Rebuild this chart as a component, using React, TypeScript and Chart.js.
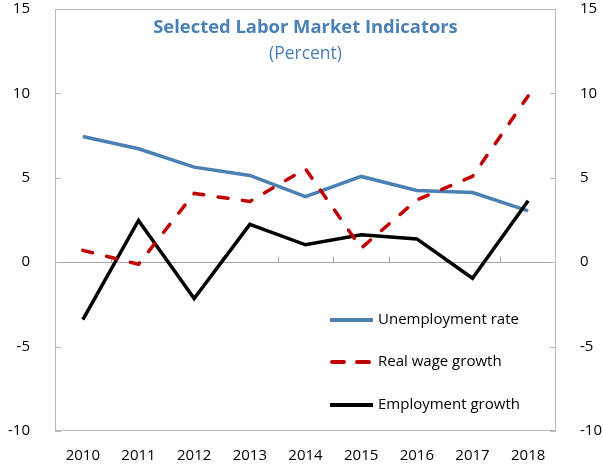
import { useEffect, useRef } from "react";
import { Chart, registerables } from "chart.js";

Chart.register(...registerables);

const years = ["2010", "2011", "2012", "2013", "2014", "2015", "2016", "2017", "2018"];
const unemploymentRate = [7.45, 6.72, 5.63, 5.14, 3.89, 5.08, 4.25, 4.13, 3.04];
const realWageGrowth = [0.7, -0.12, 4.07, 3.6, 5.53, 0.83, 3.69, 5.08, 9.85];
const employmentGrowth = [-3.4, 2.47, -2.15, 2.24, 1.03, 1.62, 1.38, -0.95, 3.64];
const yTicks = [-10, -5, 0, 5, 10, 15];
const seriesNames = ["Unemployment rate", "Real wage growth", "Employment growth"];
const titleText = "Selected Labor Market Indicators";
const subtitleText = "(Percent)";

const BLUE = "#4a80b4";
const RED = "#c00000";
const BLACK = "#000000";
const FRAME = "#b8b8b8";
const ZERO = "#a6a6a6";
const FONT = "'Open Sans', sans-serif";

const framePlugin = {
  id: "frame",
  beforeDatasetsDraw(chart: any) {
    const { ctx, chartArea: a, scales } = chart;
    const y = scales.y;
    const x = scales.x;
    ctx.save();
    ctx.lineWidth = 1;
    const y0 = Math.round(y.getPixelForValue(0)) + 0.5;
    ctx.strokeStyle = ZERO;
    ctx.beginPath();
    ctx.moveTo(a.left, y0);
    ctx.lineTo(a.right, y0);
    ctx.stroke();
    const n = years.length;
    for (let i = 1; i < n; i++) {
      const px = Math.round((x.getPixelForValue(i - 1) + x.getPixelForValue(i)) / 2) + 0.5;
      ctx.beginPath();
      ctx.moveTo(px, y0);
      ctx.lineTo(px, y0 - 6);
      ctx.stroke();
    }
    ctx.strokeStyle = FRAME;
    ctx.strokeRect(a.left + 0.5, a.top + 0.5, a.right - a.left - 1, a.bottom - a.top - 1);
    for (const v of yTicks) {
      const py = Math.round(y.getPixelForValue(v)) + 0.5;
      ctx.beginPath();
      ctx.moveTo(a.left, py);
      ctx.lineTo(a.left + 6, py);
      ctx.moveTo(a.right, py);
      ctx.lineTo(a.right - 6, py);
      ctx.stroke();
    }
    ctx.restore();
  },
  afterDraw(chart: any) {
    const { ctx, chartArea: a } = chart;
    const cx = (a.left + a.right) / 2;
    ctx.save();
    ctx.textAlign = "center";
    ctx.textBaseline = "middle";
    ctx.fillStyle = BLUE;
    ctx.font = `bold 18.4px ${FONT}`;
    ctx.fillText(titleText, cx, a.top + 18.5);
    ctx.font = `17.5px ${FONT}`;
    ctx.fillText(subtitleText, cx, a.top + 45.5);
    const rows = [a.top + 311, a.top + 353, a.top + 396];
    chart.data.datasets.forEach((ds: any, i: number) => {
      const ly = rows[i];
      const dashed = ds.borderDash && ds.borderDash.length;
      ctx.strokeStyle = ds.borderColor;
      ctx.lineWidth = 4;
      ctx.lineCap = dashed ? "round" : "butt";
      ctx.setLineDash(dashed ? [12, 13] : []);
      ctx.beginPath();
      ctx.moveTo(dashed ? 332 : 330, ly);
      ctx.lineTo(373, ly);
      ctx.stroke();
      ctx.setLineDash([]);
      ctx.fillStyle = "#000";
      ctx.textAlign = "left";
      ctx.font = `15px ${FONT}`;
      ctx.fillText(ds.label, 378, ly);
    });
    ctx.restore();
  },
};

export default function App() {
  const ref = useRef<HTMLCanvasElement>(null);
  useEffect(() => {
    if (!ref.current) return;
    const chart = new Chart(ref.current, {
      type: "line",
      data: {
        labels: years,
        datasets: [
          {
            label: seriesNames[0],
            data: unemploymentRate,
            borderColor: BLUE,
            borderWidth: 3.5,
            pointRadius: 0,
            tension: 0,
            order: 3,
          },
          {
            label: seriesNames[1],
            data: realWageGrowth,
            borderColor: RED,
            borderWidth: 3.5,
            borderDash: [10, 14.5],
            borderCapStyle: "round",
            pointRadius: 0,
            tension: 0,
            order: 1,
          },
          {
            label: seriesNames[2],
            data: employmentGrowth,
            borderColor: BLACK,
            borderWidth: 3.5,
            pointRadius: 0,
            tension: 0,
            order: 2,
          },
        ],
      },
      options: {
        animation: false,
        responsive: false,
        maintainAspectRatio: false,
        layout: { padding: { top: 9, left: 0, right: 0, bottom: 0 } },
        plugins: {
          legend: { display: false },
          title: { display: false },
          tooltip: { enabled: false },
        },
        scales: {
          x: {
            type: "category",
            offset: true,
            grid: { display: false },
            border: { display: false },
            ticks: { color: "#000", font: { family: FONT, size: 15 }, padding: 8, maxRotation: 0 },
            afterFit(s: any) {
              s.height = 33;
              s.paddingLeft = 0;
              s.paddingRight = 0;
            },
          },
          y: {
            type: "linear",
            position: "left",
            min: -10,
            max: 15,
            grid: { display: false },
            border: { display: false },
            ticks: { color: "#000", font: { family: FONT, size: 15 }, padding: 17 },
            afterBuildTicks(s: any) {
              s.ticks = yTicks.map((v) => ({ value: v }));
            },
            afterFit(s: any) {
              s.width = 55;
              s.paddingTop = 0;
              s.paddingBottom = 0;
            },
          },
          y2: {
            type: "linear",
            position: "right",
            min: -10,
            max: 15,
            grid: { display: false },
            border: { display: false },
            ticks: { color: "#000", font: { family: FONT, size: 15 }, padding: 16 },
            afterBuildTicks(s: any) {
              s.ticks = yTicks.map((v) => ({ value: v }));
            },
            afterFit(s: any) {
              s.width = 47;
              s.paddingTop = 0;
              s.paddingBottom = 0;
            },
          },
        },
      },
      plugins: [framePlugin],
    } as any);
    return () => chart.destroy();
  }, []);
  return (
    <div style={{ position: "fixed", left: 0, top: 0, width: 603, height: 464, background: "#fff" }}>
      <canvas ref={ref} width={603} height={464} style={{ display: "block" }} />
    </div>
  );
}
